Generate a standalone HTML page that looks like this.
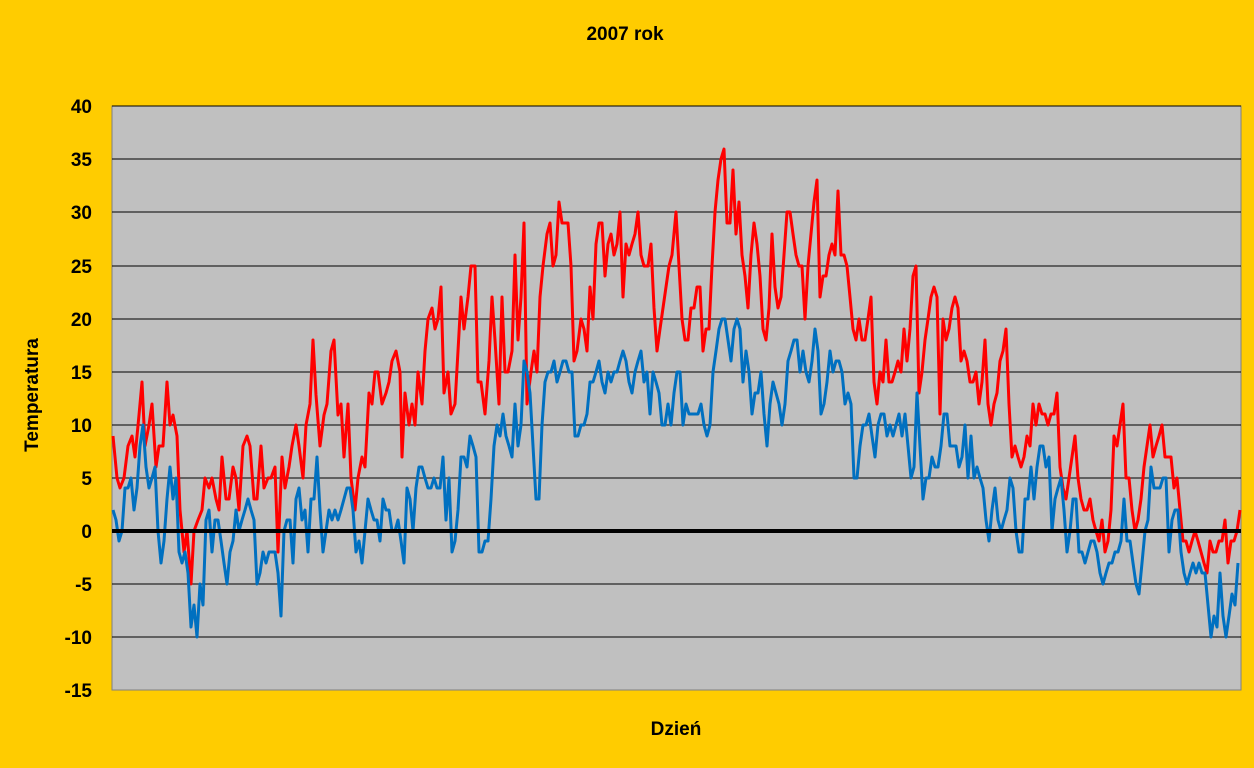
<!DOCTYPE html>
<html><head><meta charset="utf-8"><style>
html,body{margin:0;padding:0;background:#FFCC00;}
svg{display:block;font-family:"Liberation Sans",Arial,sans-serif;font-weight:bold;}
</style></head><body>
<svg width="1254" height="768" viewBox="0 0 1254 768">
<rect x="0" y="0" width="1254" height="768" fill="#FFCC00"/>
<rect x="112" y="106" width="1129" height="584" fill="#C0C0C0" stroke="#808080" stroke-width="1"/>
<g stroke="#000" stroke-width="1">
<line x1="112" y1="106" x2="1241" y2="106"/><line x1="112" y1="159" x2="1241" y2="159"/>
<line x1="112" y1="212" x2="1241" y2="212"/><line x1="112" y1="266" x2="1241" y2="266"/>
<line x1="112" y1="319" x2="1241" y2="319"/><line x1="112" y1="372" x2="1241" y2="372"/>
<line x1="112" y1="425" x2="1241" y2="425"/><line x1="112" y1="478" x2="1241" y2="478"/>
<line x1="112" y1="584" x2="1241" y2="584"/><line x1="112" y1="637" x2="1241" y2="637"/>
</g>
<g font-size="19" text-anchor="end" fill="#000">
<text x="92" y="113">40</text><text x="92" y="166">35</text><text x="92" y="219">30</text>
<text x="92" y="273">25</text><text x="92" y="326">20</text><text x="92" y="379">15</text>
<text x="92" y="432">10</text><text x="92" y="485">5</text><text x="92" y="538">0</text>
<text x="92" y="591">-5</text><text x="92" y="644">-10</text><text x="92" y="697">-15</text>
</g>
<text x="625" y="40" font-size="19" text-anchor="middle">2007 rok</text>
<text x="676" y="735" font-size="19" text-anchor="middle">Dzień</text>
<text x="38" y="395" font-size="19" text-anchor="middle" transform="rotate(-90 38 395)">Temperatura</text>
<polyline fill="none" stroke="#FF0000" stroke-width="3" stroke-linejoin="round" points="113,436 117,478 120,488 124,478 128,446 132,436 135,457 139,415 142,382 145,446 149,425 152,404 156,467 159,446 163,446 167,382 170,425 173,415 177,436 180,510 184,552 187,531 191,584 194,531 198,520 202,510 205,478 209,488 212,478 216,499 219,510 222,457 226,499 229,499 233,467 236,478 239,510 243,446 247,436 250,446 254,499 257,499 261,446 264,488 268,478 271,478 275,467 278,552 282,457 285,488 289,467 292,446 296,425 299,446 303,478 306,425 310,404 313,340 316,395 320,446 324,415 327,404 331,351 334,340 338,415 341,404 344,457 348,404 351,478 355,510 358,478 362,457 365,467 369,393 372,404 375,372 378,372 382,404 386,393 389,382 392,361 396,351 400,372 402,457 405,393 409,425 412,404 415,425 418,372 422,404 425,351 428,319 432,308 435,329 438,319 441,287 444,393 448,372 451,414 455,404 458,351 461,297 464,329 468,297 471,266 475,266 478,382 481,382 485,414 489,361 492,297 495,340 499,404 502,297 505,372 508,372 512,351 515,255 518,340 521,297 524,223 527,404 531,372 534,351 537,372 540,297 543,266 547,234 550,223 553,266 556,255 559,202 562,223 565,223 568,223 571,266 574,361 577,351 581,319 584,329 587,351 590,287 593,319 596,244 599,223 602,223 605,276 608,244 611,234 614,255 617,244 620,212 623,297 626,244 629,255 632,244 635,234 638,212 641,255 644,266 648,266 651,244 654,308 657,351 660,329 663,308 666,287 669,266 672,255 676,212 679,266 682,319 685,340 688,340 691,308 694,308 697,287 700,287 703,351 706,329 709,329 712,266 715,212 718,180 721,159 724,149 727,223 730,223 733,170 736,234 739,202 742,255 745,276 748,308 751,255 754,223 757,244 760,276 763,329 766,340 769,308 772,234 775,287 778,308 781,297 784,255 787,212 790,212 793,234 796,255 799,266 802,266 805,319 808,266 811,234 814,202 817,180 820,297 823,276 826,276 829,255 832,244 835,255 838,191 841,255 844,255 847,266 850,297 853,329 856,340 859,319 862,340 865,340 868,319 871,297 874,382 877,404 880,372 883,382 886,340 889,382 892,382 895,372 898,361 901,372 904,329 907,361 910,329 913,276 916,266 919,393 922,372 925,340 928,319 931,297 934,287 937,297 940,414 943,319 946,340 949,329 952,308 955,297 958,308 961,361 964,351 967,361 970,382 973,382 976,372 979,404 982,382 985,340 988,404 991,425 994,404 997,393 1000,361 1003,351 1006,329 1009,404 1012,457 1015,446 1018,457 1021,467 1024,457 1027,436 1030,446 1033,404 1036,425 1039,404 1042,414 1045,414 1048,425 1051,414 1054,414 1057,393 1060,467 1063,488 1066,499 1069,478 1072,457 1075,436 1078,478 1081,499 1084,510 1087,510 1090,499 1093,520 1096,531 1099,541 1102,520 1105,552 1108,541 1111,510 1114,436 1117,446 1120,425 1123,404 1126,478 1129,478 1132,510 1135,531 1138,520 1141,499 1144,467 1147,446 1150,425 1153,457 1156,446 1159,436 1162,425 1165,457 1168,457 1171,457 1174,488 1177,478 1180,510 1183,541 1186,541 1189,552 1192,541 1195,531 1198,541 1201,552 1204,563 1207,573 1210,541 1213,552 1216,552 1219,541 1222,541 1225,520 1228,563 1231,541 1234,541 1237,531 1240,510"/>
<polyline fill="none" stroke="#0070C0" stroke-width="3" stroke-linejoin="round" points="113,510 116,520 119,541 122,531 125,488 128,488 131,478 134,510 137,488 140,446 143,425 146,467 149,488 152,478 155,467 158,531 161,563 164,541 167,499 170,467 173,499 176,478 179,552 182,563 185,552 188,573 191,627 194,605 197,637 200,584 203,605 206,520 209,510 212,552 215,520 218,520 221,541 224,563 227,584 230,552 233,541 236,510 239,531 242,520 245,510 248,499 251,510 254,520 257,584 260,573 263,552 266,563 269,552 272,552 275,552 278,573 281,616 284,531 287,520 290,520 293,563 296,499 299,488 302,520 305,510 308,552 311,499 314,499 317,457 320,510 323,552 326,531 329,510 332,520 335,510 338,520 341,510 344,499 347,488 350,488 353,510 356,552 359,541 362,563 365,531 368,499 371,510 374,520 377,520 380,541 383,499 386,510 389,510 392,531 395,531 398,520 401,541 404,563 407,488 410,499 413,531 416,488 419,467 422,467 425,478 428,488 431,488 434,478 437,488 440,488 443,457 446,520 449,478 452,552 455,541 458,510 461,457 464,457 467,467 470,436 473,446 476,457 479,552 482,552 485,541 488,541 491,499 494,446 497,425 500,436 503,414 506,436 509,446 512,457 515,404 518,446 521,425 524,361 527,372 530,393 533,446 536,499 539,499 542,425 545,382 548,372 551,372 554,361 557,382 560,372 563,361 566,361 569,372 572,372 575,436 578,436 581,425 584,425 587,414 590,382 593,382 596,372 599,361 602,382 605,393 608,372 611,382 614,372 617,372 620,361 623,351 626,361 629,382 632,393 635,372 638,361 641,351 644,382 647,372 650,414 653,372 656,382 659,393 662,425 665,425 668,404 671,425 674,393 677,372 680,372 683,425 686,404 689,414 692,414 695,414 698,414 701,404 704,425 707,436 710,425 713,372 716,351 719,329 722,319 725,319 728,340 731,361 734,329 737,319 740,329 743,382 746,351 749,372 752,414 755,393 758,393 761,372 764,414 767,446 770,404 773,382 776,393 779,404 782,425 785,404 788,361 791,351 794,340 797,340 800,372 803,351 806,372 809,382 812,361 815,329 818,351 821,414 824,404 827,382 830,351 833,372 836,361 839,361 842,372 845,404 848,393 851,404 854,478 857,478 860,446 863,425 866,425 869,414 872,436 875,457 878,425 881,414 884,414 887,436 890,425 893,436 896,425 899,414 902,436 905,414 908,446 911,478 914,467 917,393 920,446 923,499 926,478 929,478 932,457 935,467 938,467 941,446 944,414 947,414 950,446 953,446 956,446 959,467 962,457 965,425 968,478 971,436 974,478 977,467 980,478 983,488 986,520 989,541 992,510 995,488 998,520 1001,531 1004,520 1007,510 1010,478 1013,488 1016,531 1019,552 1022,552 1025,499 1028,499 1031,467 1034,499 1037,467 1040,446 1043,446 1046,467 1049,457 1052,531 1055,499 1058,488 1061,478 1064,510 1067,552 1070,531 1073,499 1076,499 1079,552 1082,552 1085,563 1088,552 1091,541 1094,541 1097,552 1100,573 1103,584 1106,573 1109,563 1112,563 1115,552 1118,552 1121,541 1124,499 1127,541 1130,541 1133,563 1136,584 1139,594 1142,563 1145,531 1148,520 1151,467 1154,488 1157,488 1160,488 1163,478 1166,478 1169,552 1172,520 1175,510 1178,510 1181,552 1184,573 1187,584 1190,573 1193,563 1196,573 1199,563 1202,573 1205,573 1208,605 1211,637 1214,616 1217,627 1220,573 1223,616 1226,637 1229,616 1232,594 1235,605 1238,563"/>
<line x1="112" y1="531" x2="1241" y2="531" stroke="#000" stroke-width="4"/>
</svg>
</body></html>
